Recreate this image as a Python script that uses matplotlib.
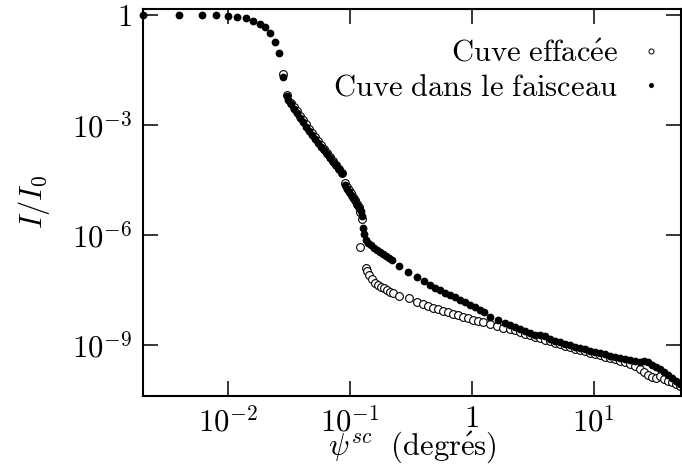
import numpy as np
import matplotlib
matplotlib.use("Agg")
import matplotlib.pyplot as plt

plt.rcParams['mathtext.fontset'] = 'cm'
plt.rcParams['font.family'] = ['cmr10', 'DejaVu Serif']
plt.rcParams['axes.formatter.use_mathtext'] = True

# Cuve dans le faisceau (points pleins)
psi_full = [0.0020, 0.00396, 0.00612, 0.00798, 0.0100, 0.01186, 0.01405, 0.01603,
            0.01828, 0.02009, 0.02208, 0.02427, 0.02616, 0.02825, 0.03048,
            0.03105, 0.03283, 0.03475, 0.03678, 0.03890, 0.04118, 0.04356, 0.04610,
            0.04887, 0.05164, 0.05470, 0.05781, 0.06124, 0.06471, 0.06855, 0.07261,
            0.07674, 0.08128, 0.08590,
            0.09099, 0.09441, 0.09817, 0.1019, 0.1059, 0.1099, 0.1140, 0.1186, 0.1230, 0.1253,
            0.1279, 0.1303, 0.1352, 0.1406, 0.1486, 0.1574, 0.1663, 0.1762, 0.1862,
            0.1972, 0.2089, 0.2208,
            0.2523, 0.2985, 0.3540, 0.4044, 0.4529, 0.4977, 0.5470, 0.6012, 0.6607,
            0.7261, 0.7980, 0.8770, 0.9638, 1.059, 1.164, 1.254, 1.405, 1.633, 1.862,
            2.046, 2.249, 2.472, 2.716, 2.985, 3.281, 3.606, 3.963, 4.355, 4.786,
            5.260, 5.781, 6.353, 6.982, 7.674, 8.433, 9.268, 10.19, 11.19, 12.30,
            13.52, 14.86, 16.33, 17.95, 19.72, 21.67, 23.82, 25.70, 27.72, 29.87,
            32.22, 34.75, 37.49, 40.44, 43.62, 47.05, 50.75]
I_full = [1.0, 1.0, 1.0, 0.969, 0.939, 0.882, 0.803, 0.686,
          0.568, 0.471, 0.323, 0.1835, 0.0920, 0.0204, 6.18e-3,
          4.81e-3, 3.74e-3, 2.73e-3, 2.13e-3, 1.55e-3, 1.21e-3, 8.83e-4, 6.87e-4,
          5.18e-4, 4.15e-4, 3.23e-4, 2.51e-4, 2.08e-4, 1.62e-4, 1.26e-4, 9.80e-5,
          8.11e-5, 6.31e-5, 4.91e-5,
          2.31e-5, 1.80e-5, 1.49e-5, 1.23e-5, 1.02e-5, 8.47e-6, 6.59e-6, 5.46e-6, 4.52e-6, 3.30e-6,
          1.55e-6, 1.07e-6, 7.31e-7, 6.06e-7, 5.34e-7, 4.43e-7, 3.90e-7, 3.44e-7, 3.03e-7,
          2.68e-7, 2.36e-7, 2.08e-7,
          1.43e-7, 1.01e-7, 7.17e-8, 5.57e-8, 4.34e-8, 3.59e-8, 3.17e-8, 2.71e-8, 2.31e-8,
          2.04e-8, 1.75e-8, 1.49e-8, 1.27e-8, 1.09e-8, 9.02e-9, 7.96e-9, 6.00e-9, 4.82e-9, 3.99e-9,
          3.52e-9, 3.10e-9, 2.74e-9, 2.41e-9, 2.13e-9, 1.94e-9, 1.88e-9, 1.76e-9, 1.46e-9, 1.29e-9,
          1.21e-9, 1.10e-9, 1.00e-9, 9.12e-10, 8.30e-10, 7.79e-10, 7.09e-10, 6.66e-10, 6.07e-10, 5.69e-10,
          5.18e-10, 4.86e-10, 4.43e-10, 4.16e-10, 3.91e-10, 3.67e-10, 3.45e-10, 3.79e-10, 3.45e-10, 2.90e-10,
          2.52e-10, 2.22e-10, 1.84e-10, 1.52e-10, 1.26e-10, 1.04e-10, 8.65e-11]

# Cuve effacée (cercles ouverts)
psi_open = [0.02825, 0.03048,
            0.03283, 0.03475, 0.03678, 0.03890, 0.04118, 0.04356, 0.04610, 0.04887,
            0.05164, 0.05470, 0.05781, 0.06124, 0.06471, 0.06855, 0.07261, 0.07674,
            0.08128, 0.08590,
            0.09099, 0.09441, 0.09817, 0.1019, 0.1059, 0.1099, 0.1140, 0.1186, 0.1208,
            0.1253, 0.1208,
            0.1352, 0.1377, 0.1432, 0.1514, 0.1603, 0.1698, 0.1795, 0.1901, 0.2009,
            0.2128, 0.2249,
            0.2523, 0.3048, 0.3540, 0.3963, 0.4355, 0.4786, 0.5260, 0.5781, 0.6353,
            0.6982, 0.7674, 0.8433, 0.9268, 1.019, 1.119, 1.230, 1.405, 1.603, 1.795, 2.046,
            2.249, 2.472, 2.716, 2.985, 3.281, 3.606, 3.963, 4.355, 4.786, 5.260,
            5.781, 6.353, 6.982, 7.674, 8.433, 9.268, 10.19, 11.19, 12.30, 13.52,
            14.86, 16.33, 17.95, 19.72, 21.67, 23.82, 25.70, 27.72, 29.87, 32.22,
            34.75, 37.49, 40.44, 43.62, 47.05, 50.75]
I_open = [0.0246, 6.58e-3,
          3.98e-3, 3.10e-3, 2.41e-3, 1.76e-3, 1.37e-3, 1.07e-3, 7.78e-4, 6.05e-4,
          4.71e-4, 3.66e-4, 2.85e-4, 2.22e-4, 1.73e-4, 1.34e-4, 1.04e-4, 8.11e-5,
          6.31e-5, 4.91e-5,
          2.62e-5, 2.04e-5, 1.69e-5, 1.40e-5, 1.09e-5, 9.02e-6, 7.02e-6, 5.81e-6, 4.25e-6,
          2.73e-6, 4.71e-7,
          1.26e-7, 1.04e-7, 8.12e-8, 6.32e-8, 4.92e-8, 4.34e-8, 3.82e-8, 3.59e-8, 3.17e-8,
          2.79e-8, 2.62e-8,
          2.24e-8, 1.92e-8, 1.54e-8, 1.31e-8, 1.16e-8, 1.05e-8, 9.60e-9, 8.73e-9, 7.96e-9,
          7.24e-9, 6.59e-9, 6.00e-9, 5.46e-9, 4.97e-9, 4.52e-9, 4.25e-9, 3.87e-9, 3.41e-9, 3.01e-9, 2.74e-9,
          2.57e-9, 2.27e-9, 2.06e-9, 1.88e-9, 1.66e-9, 1.56e-9, 1.37e-9, 1.29e-9, 1.14e-9, 1.07e-9,
          9.71e-10, 8.84e-10, 8.04e-10, 7.32e-10, 6.87e-10, 6.26e-10, 5.69e-10, 5.35e-10, 4.86e-10, 4.43e-10,
          4.16e-10, 3.79e-10, 3.45e-10, 3.13e-10, 2.68e-10, 2.22e-10, 1.84e-10, 1.52e-10, 1.34e-10, 1.26e-10,
          1.43e-10, 1.19e-10, 1.04e-10, 9.82e-11, 8.65e-11, 7.63e-11]

x_ticks = [1e-2, 1e-1, 1, 1e1]
x_labels = [r'$10^{-2}$', r'$10^{-1}$', r'$1$', r'$10^{1}$']
y_ticks = [1, 1e-3, 1e-6, 1e-9]
y_labels = [r'$1$', r'$10^{-3}$', r'$10^{-6}$', r'$10^{-9}$']

fig = plt.figure(figsize=(6.82, 4.66), dpi=100)
ax = fig.add_axes([0.2097, 0.1502, 0.7888, 0.8305])

ax.plot(psi_open, I_open, 'o', ls='none', ms=5.6, mfc='white', mec='black', mew=0.8,
        clip_on=False, label=r'$\mathrm{Cuve\ effac\acute{e}e}$')
ax.plot(psi_full, I_full, 'o', ls='none', ms=5.6, color='black', mew=0,
        clip_on=False, label=r'$\mathrm{Cuve\ dans\ le\ faisceau}$')

ax.set_xscale('log')
ax.set_yscale('log')
ax.set_xlim(0.002, 52)
ax.set_ylim(4.1e-11, 1.45)

ax.set_xticks(x_ticks)
ax.set_xticklabels(x_labels)
ax.set_yticks(y_ticks)
ax.set_yticklabels(y_labels)
ax.minorticks_off()
ax.tick_params(direction='in', length=11, width=1.1, top=True, right=True,
               labelsize=22, pad=8)
ax.tick_params(axis='x', pad=7)
for s in ax.spines.values():
    s.set_linewidth(1.5)

ax.set_xlabel(r'$\psi^{sc}\ \ \mathrm{(degr\acute{e}s)}$', fontsize=22, labelpad=-5)
ax.set_ylabel(r'$I/I_0$', fontsize=22, labelpad=14)

leg = ax.legend(loc='upper right', bbox_to_anchor=(1.019, 0.995), frameon=False,
                markerfirst=False, fontsize=22,
                handlelength=0.7, handletextpad=0.75, labelspacing=0.22,
                markerscale=0.65, borderaxespad=0.55)
leg.legend_handles[0].set_markeredgewidth(0.7)

fig.savefig('out.png', dpi=100)
